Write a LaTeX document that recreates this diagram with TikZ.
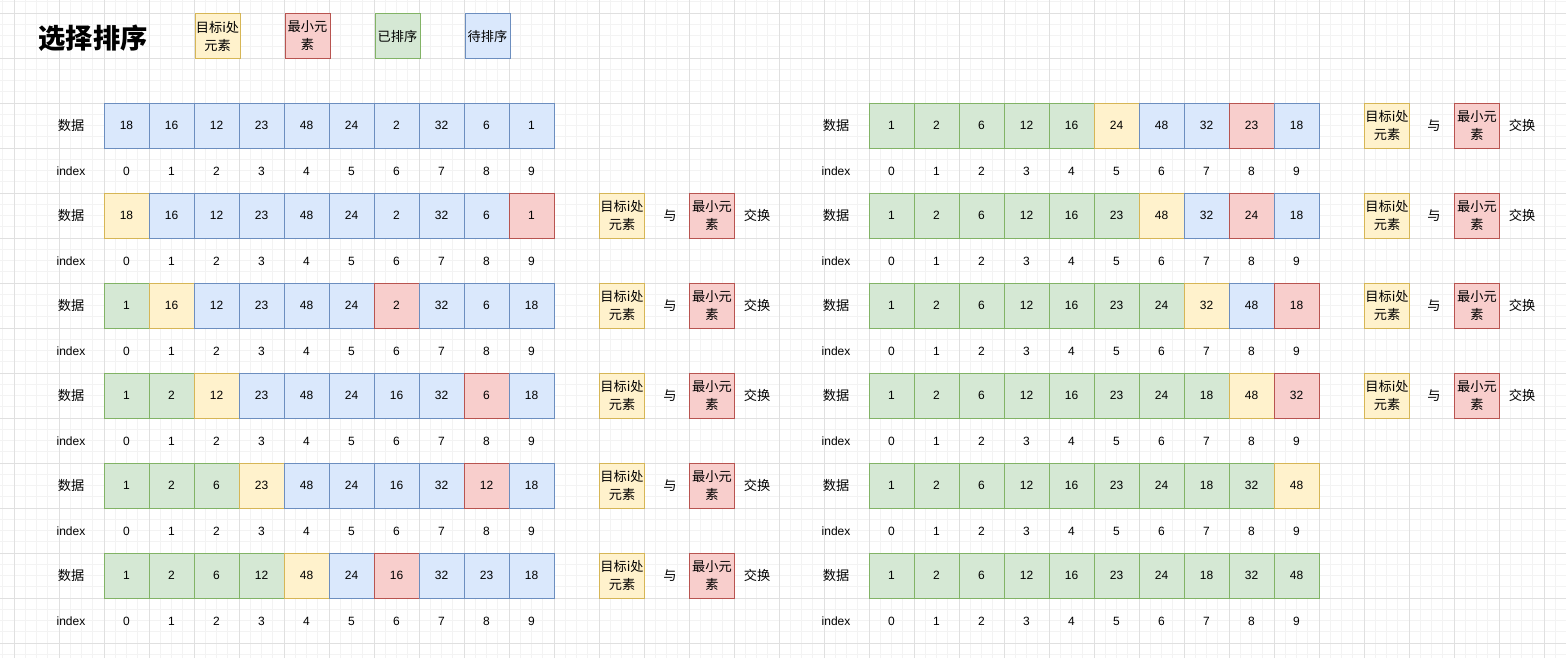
\documentclass[tikz,border=0pt]{standalone}
\usepackage{fontspec}
\setmainfont{Liberation Sans}
\newfontfamily\cjk[Scale=1.1]{Noto Sans CJK SC}

\definecolor{pendfill}{HTML}{DAE8FC}
\definecolor{pendline}{HTML}{6C8EBF}
\definecolor{donefill}{HTML}{D5E8D4}
\definecolor{doneline}{HTML}{82B366}
\definecolor{tgtfill}{HTML}{FFF2CC}
\definecolor{tgtline}{HTML}{D6B656}
\definecolor{minfill}{HTML}{F8CECC}
\definecolor{minline}{HTML}{B85450}
\definecolor{gridmajor}{HTML}{E0E0E0}
\definecolor{gridminor}{HTML}{F3F3F3}

\tikzset{every picture/.style={line width=0.75pt}}
\tikzset{
  box/.style={draw, minimum width=33.75pt, minimum height=33.75pt, inner sep=0pt,
    align=center, font=\fontsize{9}{13.5}\selectfont},
  pending/.style={box, fill=pendfill, draw=pendline},
  sorted/.style={box, fill=donefill, draw=doneline},
  target/.style={box, fill=tgtfill, draw=tgtline},
  mincell/.style={box, fill=minfill, draw=minline},
  txt/.style={inner sep=0pt, font=\fontsize{9}{11}\selectfont},
}

\begin{document}
\begin{tikzpicture}[x=0.75pt,y=0.75pt,yscale=-1,xscale=1]
\useasboundingbox (0,0) rectangle (1566,658);
\fill[white] (0,0) rectangle (1566,658);

% Grid
\foreach \k in {0,...,139} \draw[gridminor] (2.75+11.25*\k,0) -- (2.75+11.25*\k,658);
\foreach \k in {0,...,58} \draw[gridminor] (0,1.75+11.25*\k) -- (1566,1.75+11.25*\k);
\foreach \k in {0,...,34} \draw[gridmajor] (14+45*\k,0) -- (14+45*\k,658);
\foreach \k in {0,...,14} \draw[gridmajor] (0,13+45*\k) -- (1566,13+45*\k);

% Title and legend
\node[font=\cjk\bfseries\fontsize{18.6}{22}\selectfont] (title) at (93,38) {选择排序};
\node[target] (keyTgt) at (217.5,36) {\cjk 目标i处\\\cjk 元素};
\node[mincell] (keyMin) at (307.5,36) {\cjk 最小元\\\cjk 素};
\node[sorted] (keyDone) at (397.5,36) {\cjk 已排序};
\node[pending] (keyPend) at (487.5,36) {\cjk 待排序};

% Row labels and indices
\foreach \r in {0,...,5} {
  \node[txt] (Llab\r) at (71,125.5+90*\r) {\cjk 数据};
  \node[txt] (Lind\r) at (71,171+90*\r) {index};
  \node[txt] (Rlab\r) at (836,125.5+90*\r) {\cjk 数据};
  \node[txt] (Rind\r) at (836,171+90*\r) {index};
  \foreach \i in {0,...,9} {
    \node[txt] (Li\r-\i) at (126.5+45*\i,171+90*\r) {\i};
    \node[txt] (Ri\r-\i) at (891.5+45*\i,171+90*\r) {\i};
  }
}

% Left column: data rows
\foreach \v/\s [count=\i from 0] in {18/pending,16/pending,12/pending,23/pending,48/pending,24/pending,2/pending,32/pending,6/pending,1/pending}
  \node[\s] (L0-\i) at (126.5+45*\i,125.5) {\v};
\foreach \v/\s [count=\i from 0] in {18/target,16/pending,12/pending,23/pending,48/pending,24/pending,2/pending,32/pending,6/pending,1/mincell}
  \node[\s] (L1-\i) at (126.5+45*\i,215.5) {\v};
\foreach \v/\s [count=\i from 0] in {1/sorted,16/target,12/pending,23/pending,48/pending,24/pending,2/mincell,32/pending,6/pending,18/pending}
  \node[\s] (L2-\i) at (126.5+45*\i,305.5) {\v};
\foreach \v/\s [count=\i from 0] in {1/sorted,2/sorted,12/target,23/pending,48/pending,24/pending,16/pending,32/pending,6/mincell,18/pending}
  \node[\s] (L3-\i) at (126.5+45*\i,395.5) {\v};
\foreach \v/\s [count=\i from 0] in {1/sorted,2/sorted,6/sorted,23/target,48/pending,24/pending,16/pending,32/pending,12/mincell,18/pending}
  \node[\s] (L4-\i) at (126.5+45*\i,485.5) {\v};
\foreach \v/\s [count=\i from 0] in {1/sorted,2/sorted,6/sorted,12/sorted,48/target,24/pending,16/mincell,32/pending,23/pending,18/pending}
  \node[\s] (L5-\i) at (126.5+45*\i,575.5) {\v};

% Right column: data rows
\foreach \v/\s [count=\i from 0] in {1/sorted,2/sorted,6/sorted,12/sorted,16/sorted,24/target,48/pending,32/pending,23/mincell,18/pending}
  \node[\s] (R0-\i) at (891.5+45*\i,125.5) {\v};
\foreach \v/\s [count=\i from 0] in {1/sorted,2/sorted,6/sorted,12/sorted,16/sorted,23/sorted,48/target,32/pending,24/mincell,18/pending}
  \node[\s] (R1-\i) at (891.5+45*\i,215.5) {\v};
\foreach \v/\s [count=\i from 0] in {1/sorted,2/sorted,6/sorted,12/sorted,16/sorted,23/sorted,24/sorted,32/target,48/pending,18/mincell}
  \node[\s] (R2-\i) at (891.5+45*\i,305.5) {\v};
\foreach \v/\s [count=\i from 0] in {1/sorted,2/sorted,6/sorted,12/sorted,16/sorted,23/sorted,24/sorted,18/sorted,48/target,32/mincell}
  \node[\s] (R3-\i) at (891.5+45*\i,395.5) {\v};
\foreach \v/\s [count=\i from 0] in {1/sorted,2/sorted,6/sorted,12/sorted,16/sorted,23/sorted,24/sorted,18/sorted,32/sorted,48/target}
  \node[\s] (R4-\i) at (891.5+45*\i,485.5) {\v};
\foreach \v/\s [count=\i from 0] in {1/sorted,2/sorted,6/sorted,12/sorted,16/sorted,23/sorted,24/sorted,18/sorted,32/sorted,48/sorted}
  \node[\s] (R5-\i) at (891.5+45*\i,575.5) {\v};

% Swap notes
\foreach \r in {1,...,5} {
  \node[target] (Ltgt\r) at (622,125.5+90*\r) {\cjk 目标i处\\\cjk 元素};
  \node[txt] (Lwith\r) at (670,125.5+90*\r) {\cjk 与};
  \node[mincell] (Lmin\r) at (712,125.5+90*\r) {\cjk 最小元\\\cjk 素};
  \node[txt] (Lswap\r) at (757,125.5+90*\r) {\cjk 交换};
}
\foreach \r in {0,...,3} {
  \node[target] (Rtgt\r) at (1387,125.5+90*\r) {\cjk 目标i处\\\cjk 元素};
  \node[txt] (Rwith\r) at (1434,125.5+90*\r) {\cjk 与};
  \node[mincell] (Rmin\r) at (1477,125.5+90*\r) {\cjk 最小元\\\cjk 素};
  \node[txt] (Rswap\r) at (1522,125.5+90*\r) {\cjk 交换};
}

\end{tikzpicture}
\end{document}
